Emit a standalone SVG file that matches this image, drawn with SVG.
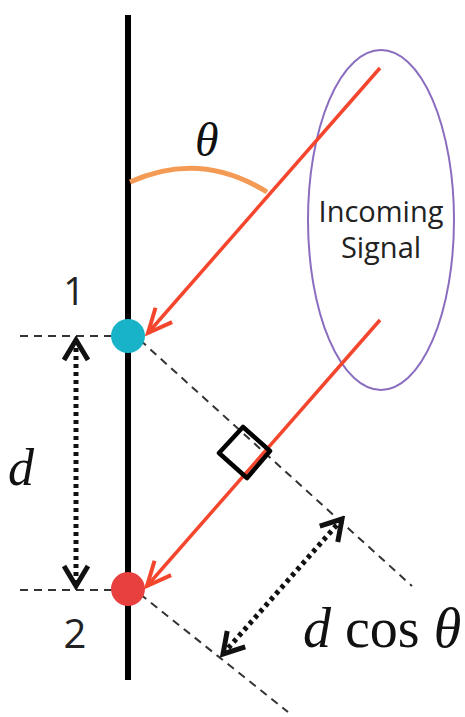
<svg xmlns="http://www.w3.org/2000/svg" width="465" height="717" viewBox="0 0 465 717">
<defs>
<style>
.red{stroke:#f4452d;stroke-width:3.5;fill:none}
.dash{stroke:#333;stroke-width:2;stroke-dasharray:8 6;fill:none}
.dot{stroke:#111;stroke-width:5;stroke-dasharray:4 4;fill:none}
.serif{font-family:"Liberation Serif","DejaVu Serif",serif;fill:#111}
.sans{font-family:"Open Sans","Liberation Sans",sans-serif;fill:#222}
</style>
<marker id="ra" markerUnits="userSpaceOnUse" viewBox="-26 -14 30 28" refX="0" refY="0" markerWidth="30" markerHeight="28" orient="auto">
<path d="M-24,-11 L0,0 L-24,11" fill="none" stroke="#f4452d" stroke-width="4" stroke-linejoin="miter"/>
</marker>
<marker id="ba" markerUnits="userSpaceOnUse" viewBox="-26 -16 30 32" refX="0" refY="0" markerWidth="30" markerHeight="32" orient="auto-start-reverse">
<path d="M-20,-12 L0,0 L-20,12" fill="none" stroke="#111" stroke-width="5"/>
</marker>
</defs>
<g id="axis">
<line x1="128" y1="15" x2="128" y2="680" stroke="#000" stroke-width="6"/>
</g>
<g id="angle">
<path d="M130,182 Q200,150 267,192" fill="none" stroke="#f39a55" stroke-width="5"/>
<text x="195" y="156" class="serif" font-size="48" font-style="italic">θ</text>
</g>
<g id="signal">
<ellipse cx="381" cy="220" rx="73" ry="170" fill="none" stroke="#8a6dbf" stroke-width="2"/>
<text x="381" y="222" class="sans" font-size="29" text-anchor="middle">Incoming</text>
<text x="381" y="258" class="sans" font-size="29" text-anchor="middle">Signal</text>
</g>
<g id="connectors">
<line x1="20" y1="336" x2="128" y2="336" class="dash"/>
<line x1="20" y1="590" x2="128" y2="590" class="dash"/>
<line x1="140" y1="340" x2="412" y2="586" class="dash"/>
<line x1="140" y1="594" x2="288" y2="712" class="dash"/>
<line x1="380" y1="68" x2="148" y2="333" class="red" marker-end="url(#ra)"/>
<line x1="380" y1="320" x2="147" y2="586" class="red" marker-end="url(#ra)"/>
<line x1="76" y1="340" x2="76" y2="586" class="dot" marker-start="url(#ba)" marker-end="url(#ba)"/>
<line x1="223" y1="654" x2="342" y2="519" class="dot" marker-start="url(#ba)" marker-end="url(#ba)"/>
<polygon points="243,427 270,451 247,478 219,453" fill="none" stroke="#000" stroke-width="4.5" stroke-linejoin="round"/>
</g>
<g id="node1">
<circle cx="128" cy="336" r="17" fill="#19b3c9"/>
<text x="74" y="305" class="sans" font-size="38" text-anchor="middle">1</text>
</g>
<g id="node2">
<circle cx="128" cy="589" r="17" fill="#e8403f"/>
<text x="75" y="648" class="sans" font-size="40" text-anchor="middle">2</text>
</g>
<g id="labels">
<text x="8" y="485" class="serif" font-size="52" font-style="italic">d</text>
<text x="303" y="647" class="serif" font-size="56"><tspan font-style="italic">d</tspan> cos <tspan font-style="italic">θ</tspan></text>
</g>
</svg>
